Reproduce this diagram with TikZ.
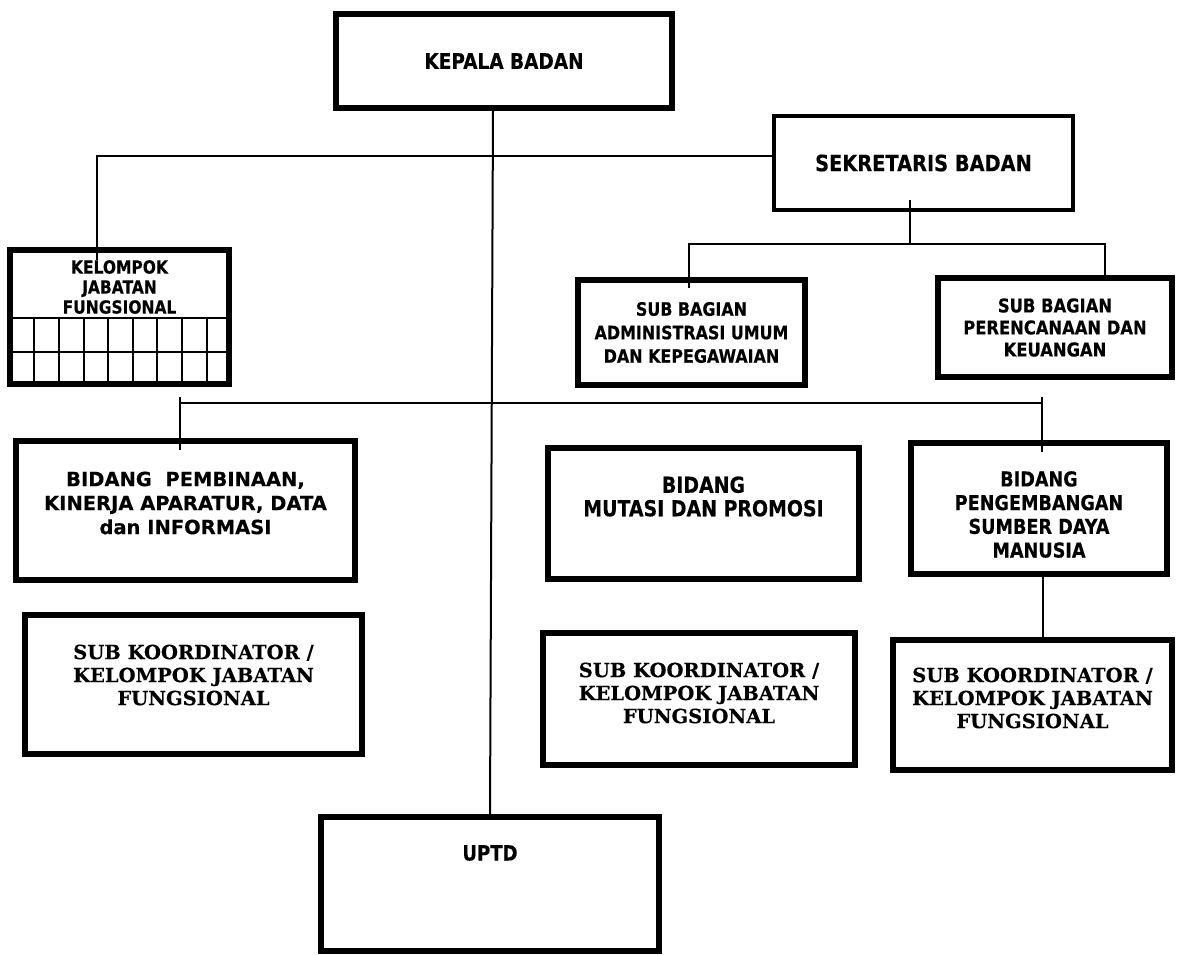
\documentclass[tikz,border=0pt]{standalone}
\usepackage{fontspec}
\newfontfamily\tah{DejaVu Sans}[FakeStretch=0.86, BoldFeatures={FakeBold=0.3}]
\newfontfamily\ver{DejaVu Sans}[BoldFeatures={FakeBold=0.3}]
\newfontfamily\srf{DejaVu Serif}[BoldFeatures={FakeBold=0.3}]
\tikzset{
  box/.style={draw, rectangle, line width=6pt, inner sep=0pt},
  txt/.style={align=center, inner sep=0pt},
  conn/.style={line width=2pt},
  gridline/.style={line width=2pt},
}
\begin{document}
\begin{tikzpicture}[x=1pt,y=-1pt]
\useasboundingbox (0,0) rectangle (1203,954);
% boxes
\node[box, minimum width=336pt, minimum height=94pt, font=\tah\bfseries\fontsize{21.5}{25}\selectfont] (kepala) at (504,61) {KEPALA BADAN};
\node[box, line width=4pt, minimum width=299pt, minimum height=94pt, font=\tah\bfseries\fontsize{22.5}{26}\selectfont] (sek) at (923.5,163) {SEKRETARIS BADAN};
\node[box, minimum width=219pt, minimum height=134pt] (kjf) at (119.5,317) {};
\node[txt, font=\tah\bfseries\fontsize{18}{20}\selectfont] (kjft) at (119.5,287) {KELOMPOK\\JABATAN\\FUNGSIONAL};
\node[box, txt, minimum width=227pt, minimum height=105pt, font=\tah\bfseries\fontsize{18.5}{23.5}\selectfont] (admin) at (691.5,332.5) {SUB BAGIAN\\ADMINISTRASI UMUM\\DAN KEPEGAWAIAN};
\node[box, txt, line width=6.5pt, minimum width=234pt, minimum height=99pt, font=\tah\bfseries\fontsize{19}{22}\selectfont] (peren) at (1055,327.5) {SUB BAGIAN\\PERENCANAAN DAN\\KEUANGAN};
\node[box, minimum width=339pt, minimum height=139pt] (pemb) at (185.5,510.5) {};
\node[txt, font=\ver\bfseries\fontsize{19.5}{24}\selectfont] (pembt) at (185.5,503) {BIDANG\ \ PEMBINAAN,\\KINERJA APARATUR, DATA\\dan INFORMASI};
\node[box, minimum width=311pt, minimum height=131pt] (mutasi) at (703.5,513.5) {};
\node[txt, font=\tah\bfseries\fontsize{22}{23.5}\selectfont] (mutasit) at (703.5,496.5) {BIDANG\\MUTASI DAN PROMOSI};
\node[box, minimum width=256pt, minimum height=131pt] (sdm) at (1039,508.5) {};
\node[txt, font=\tah\bfseries\fontsize{20.5}{23.7}\selectfont] (sdmt) at (1039,514.5) {BIDANG\\PENGEMBANGAN\\SUMBER DAYA\\MANUSIA};
\node[box, minimum width=337pt, minimum height=139pt] (sk1) at (193.5,684.5) {};
\node[txt, font=\srf\bfseries\fontsize{19.5}{23}\selectfont] (sk1t) at (193.5,675) {SUB KOORDINATOR /\\KELOMPOK JABATAN\\FUNGSIONAL};
\node[box, minimum width=312pt, minimum height=132pt] (sk2) at (699,699) {};
\node[txt, font=\srf\bfseries\fontsize{19.5}{23}\selectfont] (sk2t) at (699,693) {SUB KOORDINATOR /\\KELOMPOK JABATAN\\FUNGSIONAL};
\node[box, minimum width=279pt, minimum height=130pt] (sk3) at (1032.5,705) {};
\node[txt, font=\srf\bfseries\fontsize{19.5}{23}\selectfont] (sk3t) at (1032.5,698) {SUB KOORDINATOR /\\KELOMPOK JABATAN\\FUNGSIONAL};
\node[box, minimum width=338pt, minimum height=134pt] (uptd) at (490,884) {};
\node[txt, font=\tah\bfseries\fontsize{21}{25}\selectfont] (uptdt) at (490,853) {UPTD};
% grid in kelompok jabatan fungsional
\draw[gridline] (kjf.west |- 0,318) -- (kjf.east |- 0,318);
\draw[gridline] (kjf.west |- 0,352) -- (kjf.east |- 0,352);
\foreach \gx in {34,59,84,108,133,157,182,207} {
  \draw[gridline] (\gx,318) -- (\gx,384);
}
% connectors
\draw[conn] ([xshift=-11pt]kepala.south) -- ([xshift=0pt]uptd.north);
\coordinate (kl) at (97,156);
\draw[conn] (sek.west |- kl) -- (kl) -- ([yshift=-13pt]kjf.north -| kl);
\coordinate (sb) at (910,244);
\draw[conn] ([yshift=12pt]sek.south -| sb) -- (sb);
\draw[conn] (admin.north -| 689,0) ++(0,11) -- (689,244) -- (1105,244) -- (peren.north -| 1105,0);
\coordinate (hl) at (180,403);
\coordinate (hr) at (1042,403);
\draw[conn] (hl) -- (hr);
\draw[conn] ([yshift=6pt]hl) -- ([yshift=-12pt]pemb.north -| hl);
\draw[conn] ([yshift=6pt]hr) -- ([yshift=-12pt]sdm.north -| hr);
\draw[conn] (sdm.south -| 1043,0) -- (sk3.north -| 1043,0);
\end{tikzpicture}
\end{document}
